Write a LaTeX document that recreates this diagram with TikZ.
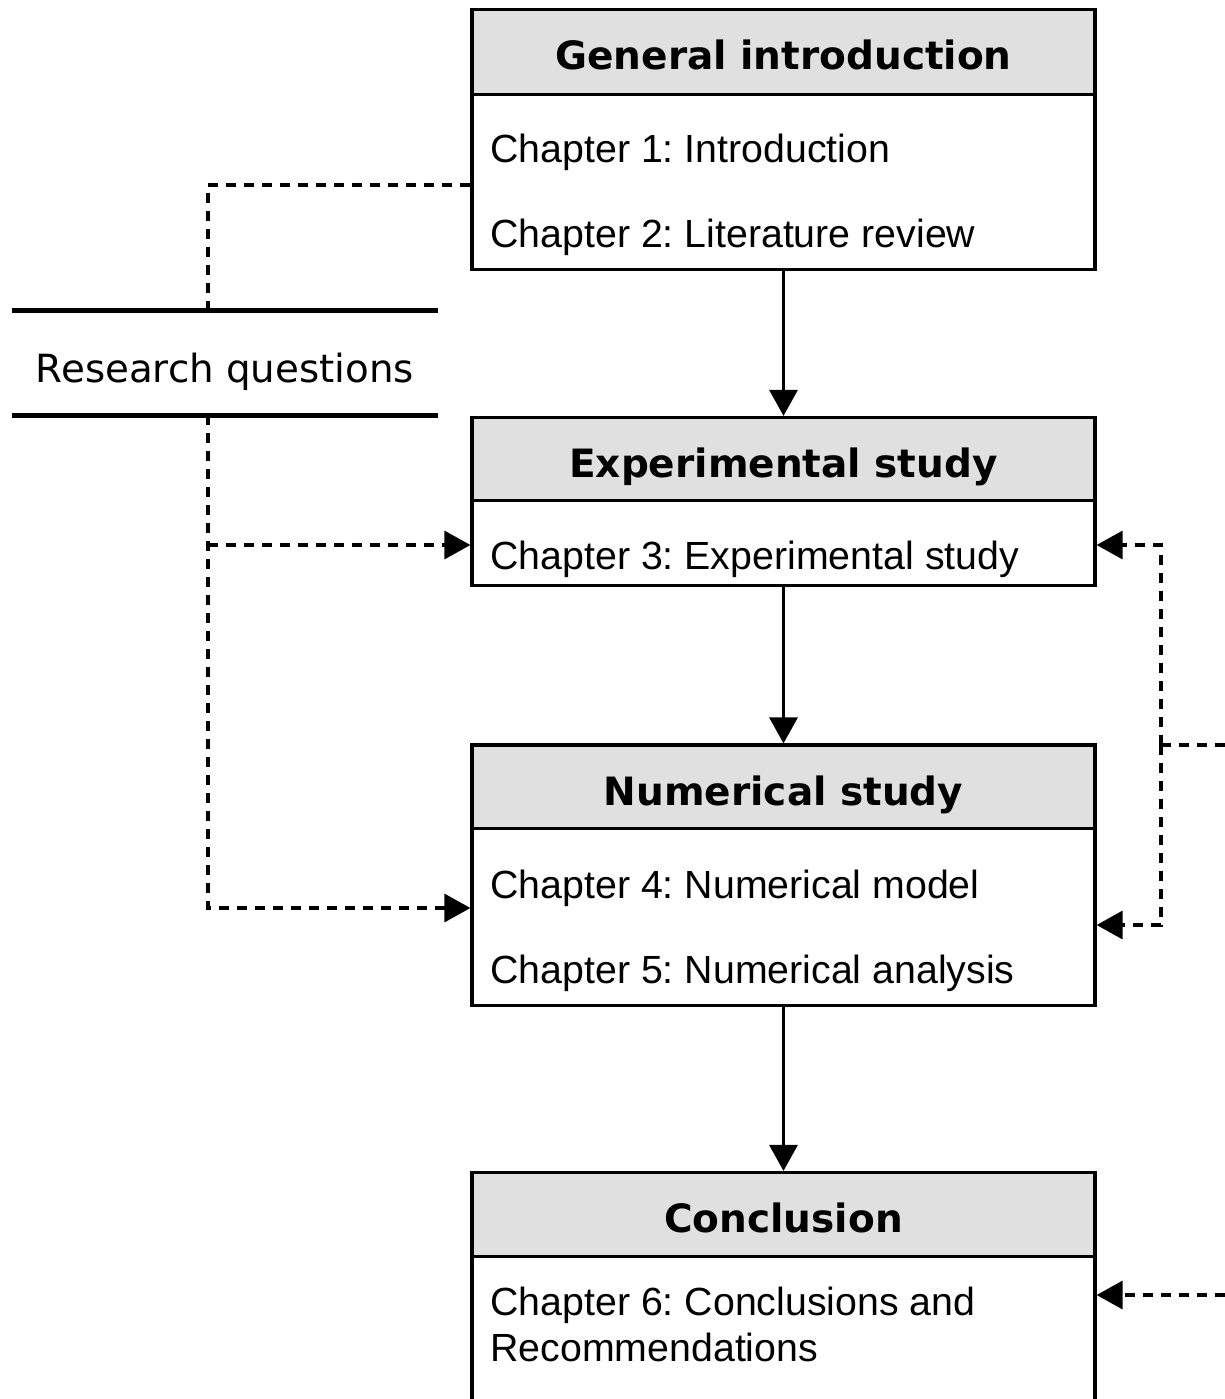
\documentclass[tikz,border=0pt]{standalone}
\usepackage{fontspec}
\setmainfont{Liberation Sans}
\newfontfamily\titlefont{DejaVu Sans}
\usetikzlibrary{arrows.meta}
\definecolor{hdrgray}{HTML}{E0E0E0}
\frenchspacing
\begin{document}
\begin{tikzpicture}[x=0.5pt,y=-0.5pt,
  hdr/.style={draw,line width=1.6pt,fill=hdrgray,minimum width=311.5pt,inner sep=0pt},
  bodybox/.style={draw,line width=1.6pt,fill=white,minimum width=311.5pt,inner sep=0pt},
  ttl/.style={anchor=base,font=\titlefont\bfseries\fontsize{19.5}{23}\selectfont,inner sep=0pt},
  rqtext/.style={anchor=base,font=\titlefont\fontsize{19.4}{23}\selectfont,inner sep=0pt},
  chap/.style={anchor=base west,font=\fontsize{19.65}{23}\selectfont,inner sep=0pt},
  flow/.style={line width=1.6pt,-{Triangle[length=13pt,width=14pt]}},
  dlink/.style={line width=1.6pt,dash pattern=on 5pt off 4pt},
  dtip/.style={dlink,-{Triangle[length=13pt,width=14pt]}},
  rqline/.style={line width=2.5pt}]
\useasboundingbox (0,0) rectangle (1225,1399);
\clip (0,0) rectangle (1225,1399);
\fill[white] (0,0) rectangle (1225,1399);

% Box 1
\node[hdr,minimum height=42.5pt] (hdr1) at (783.5,52) {};
\node[bodybox,minimum height=87.5pt] (body1) at (783.5,182) {};
\node[ttl] (t1) at (783.5,69) {General introduction};
\node[chap] (c1) at (490,162) {Chapter 1: Introduction};
\node[chap] (c2) at (490,247) {Chapter 2: Literature review};

% Box 2
\node[hdr,minimum height=41.5pt] (hdr2) at (783.5,459) {};
\node[bodybox,minimum height=42.5pt] (body2) at (783.5,543) {};
\node[ttl] (t2) at (783.5,477) {Experimental study};
\node[chap] (c3) at (490,569) {Chapter 3: Experimental study};

% Box 3
\node[hdr,minimum height=42pt] (hdr3) at (783.5,787) {};
\node[bodybox,minimum height=88.5pt] (body3) at (783.5,917) {};
\node[ttl] (t3) at (783.5,805) {Numerical study};
\node[chap] (c4) at (490,898) {Chapter 4: Numerical model};
\node[chap] (c5) at (490,983) {Chapter 5: Numerical analysis};

% Box 4
\node[hdr,minimum height=42pt] (hdr4) at (783.5,1214.5) {};
\node[bodybox,minimum height=100pt] (body4) at (783.5,1356.5) {};
\node[ttl] (t4) at (783.5,1232) {Conclusion};
\node[chap] (c6) at (490,1315) {Chapter 6: Conclusions and};
\node[chap] (c7) at (490,1361) {Recommendations};

% Solid flow arrows
\draw[flow] (body1.south) -- (hdr2.north);
\draw[flow] (body2.south) -- (hdr3.north);
\draw[flow] (body3.south) -- (hdr4.north);

% Research questions
\coordinate (rqTL) at (12,310);
\coordinate (rqTR) at (438,310);
\coordinate (rqBL) at (12,415);
\coordinate (rqBR) at (438,415);
\draw[rqline] (rqTL) -- (rqTR);
\draw[rqline] (rqBL) -- (rqBR);
\node[rqtext] (rq) at (225,382) {Research questions};

% Left dashed connectors
\coordinate (lA) at (208,185);
\coordinate (lTop) at (208,310);
\coordinate (lBot) at (208,415);
\coordinate (lMid) at (208,545);
\coordinate (lEnd) at (208,908);
\draw[dlink] (body1.west |- lA) -- (lA) -- (lTop);
\draw[dtip] (lBot) -- (lEnd) -- (lEnd -| body3.west);
\draw[dtip] (lMid) -- (lMid -| body2.west);

% Right dashed connectors
\coordinate (rEdge) at (1225,745);
\coordinate (rV) at (1161,745);
\coordinate (rTop) at (1161,545);
\coordinate (rBot) at (1161,925);
\coordinate (rEdge2) at (1225,1295);
\draw[dlink] (rEdge) -- (rV);
\draw[dtip] (rV) -- (rTop) -- (rTop -| body2.east);
\draw[dtip] (rV) -- (rBot) -- (rBot -| body3.east);
\draw[dtip] (rEdge2) -- (rEdge2 -| body4.east);
\end{tikzpicture}
\end{document}
